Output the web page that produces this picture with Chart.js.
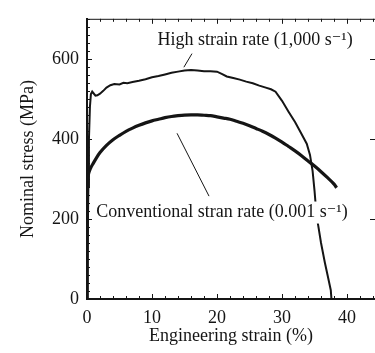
<!DOCTYPE html>
<html>
<head>
<meta charset="utf-8">
<script src="https://cdn.jsdelivr.net/npm/chart.js@4.4.1/dist/chart.umd.min.js"></script>
<style>
html,body{margin:0;padding:0;background:#fff;}
#wrap{width:375px;height:353px;position:relative;}
</style>
</head>
<body>
<div id="wrap"><canvas id="c" width="375" height="353"></canvas></div>
<script>
// ---- data ----
const highStrain = [0, 0.1, 0.2, 0.3, 0.45, 0.6, 0.8, 1.0, 1.3, 1.6, 2.0, 2.5, 3.0, 3.6, 4.2, 5.0, 5.6, 6.2, 7.0, 8.0, 9.0, 10.0, 11.0, 12.0, 13.0, 14.0, 15.0, 16.0, 17.0, 18.0, 19.0, 20.0, 20.8, 21.5, 22.5, 23.5, 24.5, 25.5, 26.5, 27.5, 28.3, 29.0, 30.0, 31.0, 32.0, 33.0, 33.8, 34.3, 34.7, 35.0, 35.3, 35.6, 36.0, 36.6, 37.0, 37.5, 37.6];
const highStress = [0, 120, 280, 400, 480, 512, 518, 514, 508, 509, 513, 520, 528, 534, 537, 536, 540, 539, 542, 545, 549, 554, 557, 561, 565, 568, 571, 572, 571, 569, 569, 568, 562, 556, 552, 548, 543, 539, 533, 528, 524, 518, 495, 468, 442, 412, 388, 360, 320, 270, 210, 180, 140, 90, 60, 22, 0];

const convStrain = [0, 0.03, 0.08, 0.2, 0.5, 1.0, 1.5, 2.0, 3.0, 4.0, 5.0, 6.0, 7.0, 8.0, 9.0, 10, 11, 12, 13, 14, 15, 16, 17, 18, 19, 20, 21, 22, 23, 24, 25, 26, 27, 28, 29, 30, 31, 32, 33, 34, 35, 36, 37, 38, 38.4];
const convStress = [0, 150, 280, 310, 325, 340, 354, 366, 384, 398, 409, 419, 427, 434, 440, 445, 449, 453, 456, 458, 459.5, 460, 460, 459, 458, 455, 452, 449, 444, 439, 433, 426, 419, 411, 402, 392, 381, 370, 358, 345, 332, 318, 303, 287, 278];

const xTickLabels = [0, 10, 20, 30, 40];
const yTickLabels = [0, 200, 400, 600];
const seriesNames = ['High strain rate (1,000 s\u207B\u00B9)', 'Conventional stran rate (0.001 s\u207B\u00B9)'];
const xTitle = 'Engineering strain (%)';
const yTitle = 'Nominal stress (MPa)';
</script>
<script>
const FONT = "'Liberation Serif', 'DejaVu Serif', serif";
const INK = '#151515';

function pts(xs, ys){ return xs.map((x,i)=>({x:x, y:ys[i]})); }

const tickPlugin = {
  id: 'frameTicks',
  afterDraw(chart){
    const ctx = chart.ctx, a = chart.chartArea;
    const xs = chart.scales.x, ys = chart.scales.y;
    ctx.save();
    ctx.strokeStyle = INK;
    ctx.lineWidth = 1;
    ctx.beginPath();
    ctx.moveTo(a.left, a.top + 0.5);
    ctx.lineTo(a.right, a.top + 0.5);
    ctx.stroke();
    for (let v = 0; v <= xs.max; v += 2) {
      const px = Math.round(xs.getPixelForValue(v)) + 0.5;
      const len = (v % 10 === 0) ? 5 : 3;
      ctx.beginPath();
      ctx.moveTo(px, a.bottom); ctx.lineTo(px, a.bottom - len);
      ctx.moveTo(px, a.top); ctx.lineTo(px, a.top + len);
      ctx.stroke();
    }
    for (let v = 0; v <= ys.max; v += 20) {
      const py = Math.round(ys.getPixelForValue(v)) + 0.5;
      const len = (v % 200 === 0) ? 5 : 3;
      ctx.beginPath();
      ctx.moveTo(a.left, py); ctx.lineTo(a.left + len, py);
      ctx.stroke();
      if (v % 200 === 0) {
        ctx.beginPath();
        ctx.moveTo(a.right, py); ctx.lineTo(a.right - len, py);
        ctx.stroke();
      }
    }
    ctx.restore();
  }
};

const annotPlugin = {
  id: 'annot',
  afterDatasetsDraw(chart){
    const ctx = chart.ctx;
    const xs = chart.scales.x, ys = chart.scales.y;
    const X = v => xs.getPixelForValue(v), Y = v => ys.getPixelForValue(v);
    ctx.save();
    ctx.font = "18px " + FONT;
    ctx.textAlign = 'center';
    ctx.textBaseline = 'middle';
    const labels = [
      {t: seriesNames[0], x: 25.85, y: 647},
      {t: seriesNames[1], x: 20.77, y: 216}
    ];
    labels.forEach(l => {
      const w = ctx.measureText(l.t).width;
      ctx.fillStyle = '#fff';
      ctx.fillRect(X(l.x) - w/2 - 1, Y(l.y) - 11, w + 2, 22);
      ctx.fillStyle = INK;
      ctx.fillText(l.t, X(l.x), Y(l.y));
    });
    ctx.strokeStyle = INK;
    ctx.lineWidth = 1;
    ctx.beginPath();
    ctx.moveTo(X(16.15), Y(613)); ctx.lineTo(X(14.9), Y(579));
    ctx.moveTo(X(13.85), Y(414)); ctx.lineTo(X(18.77), Y(257));
    ctx.stroke();
    ctx.restore();
  }
};

new Chart(document.getElementById('c'), {
  type: 'scatter',
  data: {
    datasets: [
      { label: seriesNames[0], data: pts(highStrain, highStress), showLine: true,
        borderColor: INK, borderWidth: 2, pointRadius: 0, tension: 0, fill: false },
      { label: seriesNames[1], data: pts(convStrain, convStress), showLine: true,
        borderColor: INK, borderWidth: 3.2, pointRadius: 0, cubicInterpolationMode: 'monotone', fill: false }
    ]
  },
  options: {
    responsive: false,
    animation: false,
    devicePixelRatio: 1,
    layout: { padding: { top: 10, right: 0, left: 0, bottom: 0 } },
    plugins: { legend: { display: false }, tooltip: { enabled: false } },
    scales: {
      x: {
        type: 'linear', min: 0, max: 44.3,
        afterBuildTicks: s => { s.ticks = xTickLabels.map(v => ({value: v})); },
        afterFit: s => { s.height = 54; },
        ticks: { color: INK, font: { family: FONT, size: 18 }, padding: 8, maxRotation: 0, autoSkip: false },
        grid: { display: false, drawTicks: false },
        border: { display: true, color: INK, width: 2 },
        title: { display: true, text: xTitle, color: INK, font: { family: FONT, size: 18 }, padding: { top: 0, bottom: 6 } }
      },
      y: {
        type: 'linear', min: 0, max: 700,
        afterBuildTicks: s => { s.ticks = yTickLabels.map(v => ({value: v})); },
        afterFit: s => { s.width = 87; },
        ticks: { color: INK, font: { family: FONT, size: 18 }, padding: 8, autoSkip: false },
        grid: { display: false, drawTicks: false },
        border: { display: true, color: INK, width: 2 },
        title: { display: true, text: yTitle, color: INK, font: { family: FONT, size: 18 }, padding: { top: 17, bottom: 0 } }
      }
    }
  },
  plugins: [annotPlugin, tickPlugin]
});
</script>
</body>
</html>
